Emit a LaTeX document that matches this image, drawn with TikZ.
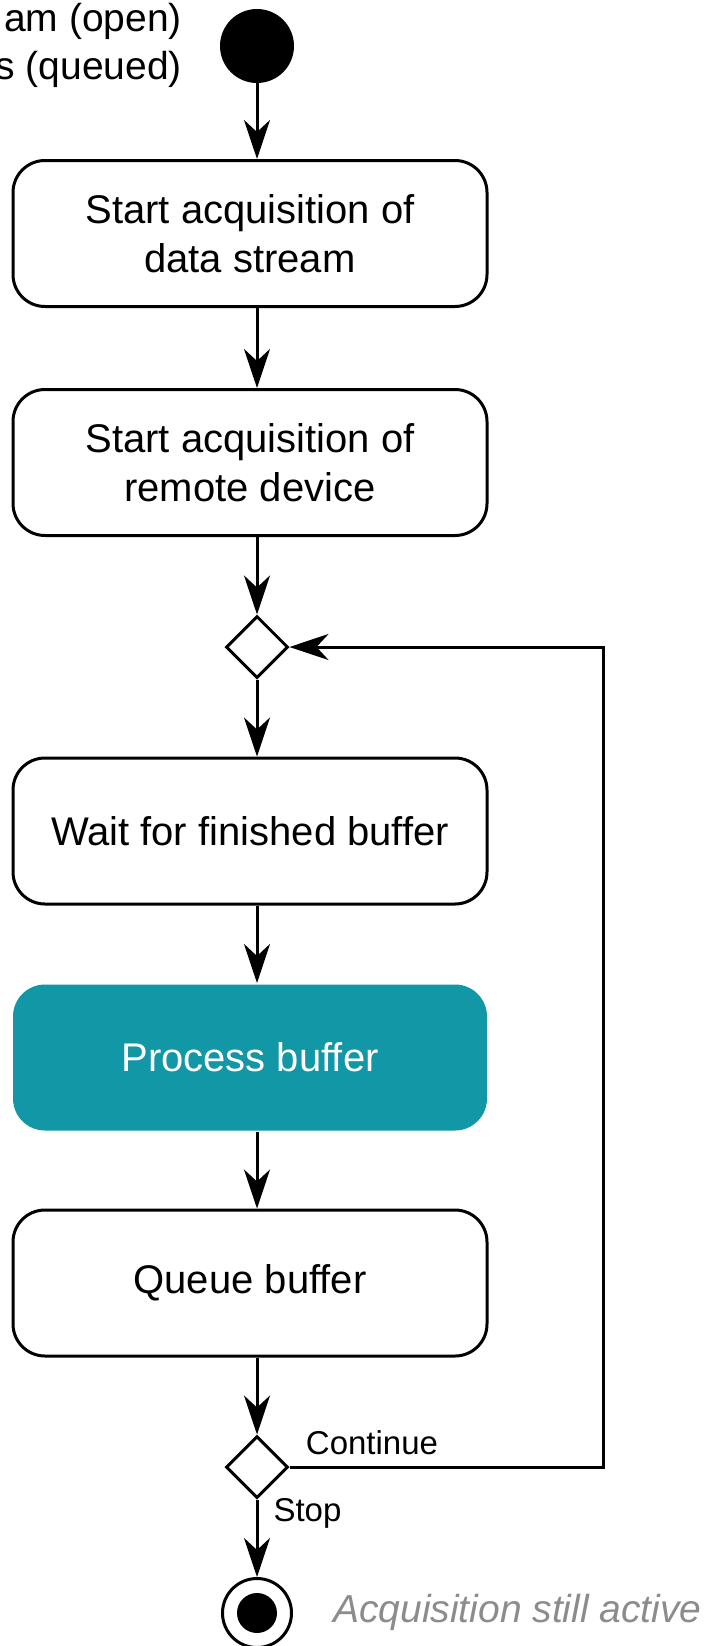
\documentclass[tikz,border=0pt]{standalone}
\usepackage{fontspec}
\setmainfont{Liberation Sans}
\usetikzlibrary{arrows.meta,shapes.geometric}
\definecolor{procfill}{RGB}{17,151,165}
\definecolor{notegray}{RGB}{140,140,140}
\begin{document}
\begin{tikzpicture}[x=1pt,y=-1pt,
  every node/.style={font=\fontsize{40}{49}\selectfont},
  actbox/.style={draw, line width=3pt, rounded corners=32pt, minimum width=474pt,
                 minimum height=146pt, align=center, inner sep=0pt, fill=white},
  procbox/.style={actbox, draw=none, fill=procfill, text=white},
  decision/.style={diamond, draw, line width=3pt, fill=white, inner sep=0pt,
                   minimum width=62pt, minimum height=62pt},
  guard/.style={font=\fontsize{33}{40}\selectfont, inner sep=0pt},
  arr/.style={line width=3pt, -{Stealth[length=39pt,width=26pt,inset=12pt]}}]

\useasboundingbox (0,0) rectangle (711,1646);

% initial node and its note
\node[circle, fill=black, minimum size=74pt, inner sep=0pt] (start) at (257,46) {};
\node[font=\fontsize{39}{48}\selectfont, align=right, inner sep=0pt, anchor=east]
  (note) at (182,45) {am (open)\\s (queued)};

% actions
\node[actbox] (b1) at (250,233.5) {Start acquisition of\\data stream};
\node[actbox] (b2) at (250,462.5) {Start acquisition of\\remote device};
\node[decision] (d1) at (257,647) {};
\node[actbox] (b3) at (250,831) {Wait for finished buffer};
\node[procbox] (b4) at (250,1057.5) {Process buffer};
\node[actbox] (b5) at (250,1283) {Queue buffer};
\node[decision] (d2) at (257,1467) {};

% final node and its note
\node[circle, draw, line width=3pt, minimum size=69pt, inner sep=0pt] (end) at (257,1613) {};
\node[circle, fill=black, minimum size=40pt, inner sep=0pt] (endcore) at (end) {};
\node[font=\fontsize{39}{45}\selectfont\itshape, text=notegray, inner sep=0pt, anchor=west]
  (endnote) at (333,1612) {Acquisition still active};

% flow
\draw[arr] (start.south) -- (start.south |- b1.north);
\draw[arr] (start.south |- b1.south) -- (start.south |- b2.north);
\draw[arr] (start.south |- b2.south) -- (d1.north);
\draw[arr] (d1.south) -- (d1.south |- b3.north);
\draw[arr] (d1.south |- b3.south) -- (d1.south |- b4.north);
\draw[arr] (d1.south |- b4.south) -- (d1.south |- b5.north);
\draw[arr] (d1.south |- b5.south) -- (d2.north);
\draw[arr] (d2.south) -- (end.north);

% loop back
\coordinate (rail) at (603,1467);
\draw[arr] (d2.east) -- (rail) |- (d1.east);

% guards
\node[guard] (cont) at (372,1443) {Continue};
\node[guard] (stop) at (307.5,1513) {Stop};
\end{tikzpicture}
\end{document}
